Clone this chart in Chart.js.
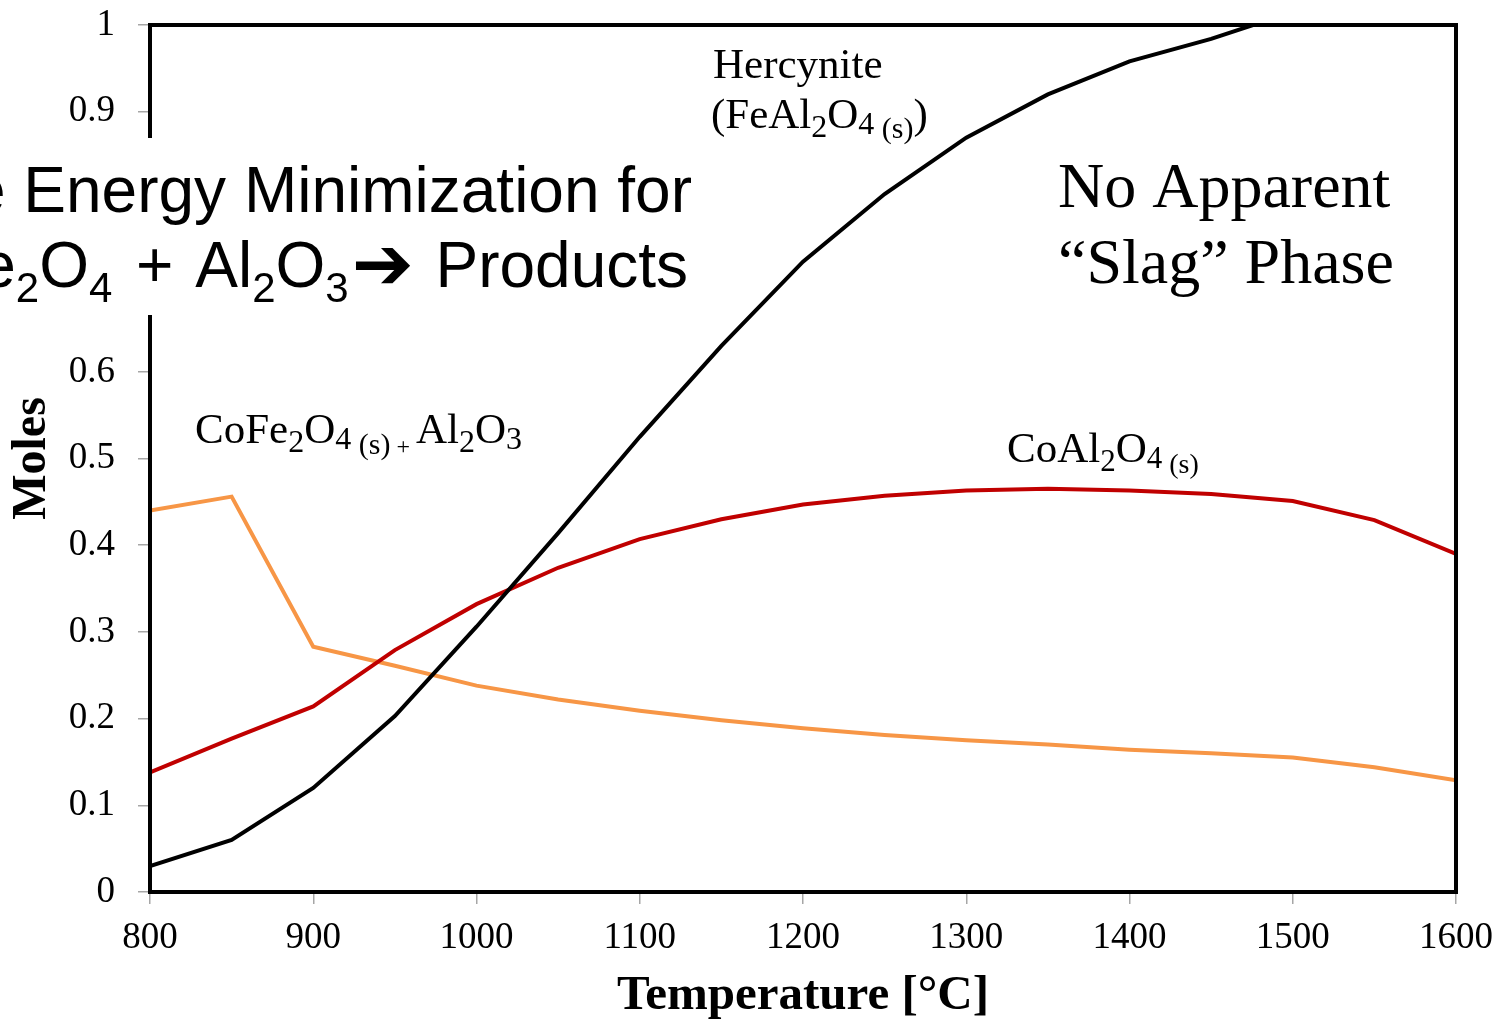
<!DOCTYPE html>
<html>
<head>
<meta charset="utf-8">
<script src="https://cdn.jsdelivr.net/npm/chart.js@4.4.1/dist/chart.umd.min.js"></script>
<style>
  html, body { margin: 0; padding: 0; background: #fff; }
  #wrap { width: 1496px; height: 1021px; }
</style>
</head>
<body>
<div id="wrap"><canvas id="c" width="1496" height="1021"></canvas></div>
<script>
// Equilibrium composition vs temperature (moles)
const temperatures = [800, 850, 900, 950, 1000, 1050, 1100, 1150, 1200, 1250, 1300, 1350, 1400, 1450, 1500, 1550, 1600];
const hercynite    = [0.030, 0.060, 0.120, 0.203, 0.306, 0.414, 0.525, 0.630, 0.727, 0.805, 0.870, 0.920, 0.958, 0.984, 1.015, 1.03, 1.04];
const coAl2O4      = [0.138, 0.177, 0.214, 0.279, 0.332, 0.374, 0.407, 0.430, 0.447, 0.457, 0.463, 0.465, 0.463, 0.459, 0.451, 0.429, 0.390];
const coFe2O4      = [0.440, 0.456, 0.283, 0.261, 0.238, 0.222, 0.209, 0.198, 0.189, 0.181, 0.175, 0.170, 0.164, 0.160, 0.155, 0.144, 0.129];
const xTicks = [800, 900, 1000, 1100, 1200, 1300, 1400, 1500, 1600];

const SERIF = '"Liberation Serif", "Times New Roman", serif';
const SANS = '"Liberation Sans", Arial, sans-serif';

function pts(ys) { return temperatures.map((t, i) => ({ x: t, y: ys[i] })); }

// Draw a run of text pieces, each with its own size, baseline shift and leading gap
function richText(ctx, x, y, parts, family, align) {
  let total = 0;
  const widths = parts.map(p => {
    ctx.font = (p.w || '') + ' ' + p.s + 'px ' + (p.f || family);
    const w = ctx.measureText(p.t).width + (p.g || 0);
    total += w;
    return w;
  });
  let cx = align === 'right' ? x - total : x;
  ctx.textAlign = 'left';
  ctx.textBaseline = 'alphabetic';
  parts.forEach((p, i) => {
    ctx.font = (p.w || '') + ' ' + p.s + 'px ' + (p.f || family);
    ctx.fillText(p.t, cx + (p.g || 0), y + (p.dy || 0));
    cx += widths[i];
  });
}

const framePlugin = {
  id: 'frame',
  afterDatasetsDraw(chart) {
    const { ctx, chartArea: a } = chart;
    ctx.save();
    ctx.strokeStyle = '#000';
    ctx.lineWidth = 4;
    ctx.strokeRect(a.left, a.top, a.right - a.left, a.bottom - a.top);
    ctx.restore();
  }
};

const labelPlugin = {
  id: 'labels',
  afterDraw(chart) {
    const ctx = chart.ctx;
    ctx.save();
    ctx.fillStyle = '#000';
    // series labels
    richText(ctx, 713, 78, [{ t: 'Hercynite', s: 43 }], SERIF);
    richText(ctx, 711, 128, [
      { t: '(FeAl', s: 43 }, { t: '2', s: 32, dy: 9 }, { t: 'O', s: 43 },
      { t: '4', s: 32, dy: 6 }, { t: ' (s)', s: 30, dy: 10 }, { t: ')', s: 43 }
    ], SERIF);
    richText(ctx, 195, 443, [
      { t: 'CoFe', s: 43 }, { t: '2', s: 32, dy: 9 }, { t: 'O', s: 43 },
      { t: '4', s: 32, dy: 6 }, { t: ' (s)', s: 30, dy: 11 }, { t: ' + ', s: 24, dy: 11 },
      { t: 'Al', s: 43 }, { t: '2', s: 32, dy: 9 }, { t: 'O', s: 43 }, { t: '3', s: 32, dy: 6 }
    ], SERIF);
    richText(ctx, 1007, 462, [
      { t: 'CoAl', s: 43 }, { t: '2', s: 31, dy: 9 }, { t: 'O', s: 43 },
      { t: '4', s: 31, dy: 6 }, { t: ' (s)', s: 28, dy: 11 }
    ], SERIF);
    // note on the right
    richText(ctx, 1058, 207, [{ t: 'No Apparent', s: 64 }], SERIF);
    richText(ctx, 1058, 283, [{ t: '\u201CSlag\u201D Phase', s: 64 }], SERIF);

    // white heading panel over the upper-left corner
    ctx.fillStyle = '#fff';
    ctx.fillRect(0, 138, 700, 177);
    ctx.fillStyle = '#000';
    richText(ctx, 692, 212, [{ t: 'e Energy Minimization for', s: 64 }], SANS, 'right');
    richText(ctx, 688, 287, [
      { t: 'e', s: 64 }, { t: '2', s: 42, dy: 15 }, { t: 'O', s: 64 }, { t: '4', s: 42, dy: 15 },
      { t: ' +', s: 64, g: 6 }, { t: ' Al', s: 64, g: 4 }, { t: '2', s: 42, dy: 15 }, { t: 'O', s: 64 }, { t: '3', s: 42, dy: 15 },
      { t: '\u2794', s: 74, w: 'bold', f: '"DejaVu Sans", sans-serif', g: 3, dy: 2 }, { t: ' Products', s: 64, g: 4 }
    ], SANS, 'right');
    ctx.restore();
  }
};

new Chart(document.getElementById('c'), {
  type: 'line',
  data: {
    datasets: [
      { label: 'Hercynite', data: pts(hercynite), borderColor: '#000000', borderWidth: 4, clip: 0 },
      { label: 'CoAl2O4', data: pts(coAl2O4), borderColor: '#C00000', borderWidth: 4, clip: 0 },
      { label: 'CoFe2O4', data: pts(coFe2O4), borderColor: '#F79646', borderWidth: 4, clip: 0 }
    ]
  },
  options: {
    responsive: false,
    animation: false,
    devicePixelRatio: 1,
    events: [],
    layout: { padding: { top: 25, right: 40, left: 0, bottom: 0 } },
    elements: { point: { radius: 0 }, line: { tension: 0, borderJoinStyle: 'miter' } },
    plugins: { legend: { display: false }, tooltip: { enabled: false } },
    scales: {
      x: {
        type: 'linear', min: 800, max: 1600,
        afterFit(s) { s.height = 129; s.paddingLeft = 0; s.paddingRight = 0; },
        afterBuildTicks(s) { s.ticks = xTicks.map(v => ({ value: v })); },
        border: { display: false },
        grid: { drawOnChartArea: false, drawTicks: true, tickLength: 12, color: '#a6a6a6', lineWidth: 1.5 },
        ticks: { color: '#000', padding: 12, maxRotation: 0, font: { family: SERIF, size: 37 }, callback: v => String(v) },
        title: { display: true, text: 'Temperature [°C]', color: '#000', padding: 0,
                 font: { family: SERIF, size: 49, weight: 'bold', lineHeight: 1 } }
      },
      y: {
        min: 0, max: 1,
        afterFit(s) { s.width = 150; s.paddingTop = 0; s.paddingBottom = 0; },
        border: { display: false },
        grid: { drawOnChartArea: false, drawTicks: true, tickLength: 12, color: '#a6a6a6', lineWidth: 1.5 },
        ticks: { stepSize: 0.1, color: '#000', padding: 23, font: { family: SERIF, size: 37 },
                 callback: v => String(Number(v.toFixed(1))) },
        title: { display: true, text: 'Moles', color: '#000', padding: 9,
                 font: { family: SERIF, size: 48, weight: 'bold', lineHeight: 1 } }
      }
    }
  },
  plugins: [framePlugin, labelPlugin]
});
</script>
</body>
</html>
